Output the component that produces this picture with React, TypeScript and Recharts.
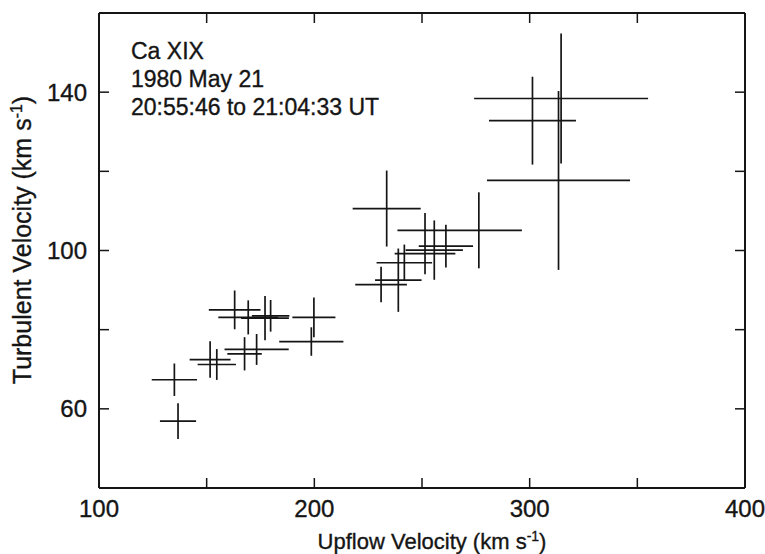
import React from 'react';
import { ScatterChart, Scatter, XAxis, YAxis, ErrorBar, Customized } from 'recharts';

// Upflow velocity (km/s) of each measurement
const upflow = [135.0, 136.7, 151.6, 154.7, 167.6, 173.2, 163.0, 169.3, 177.1, 179.7, 199.8, 198.6, 233.6, 231.0, 239.0, 241.8, 251.4, 255.7, 261.1, 276.4, 301.3, 314.6, 313.4];
// Turbulent velocity (km/s)
const turbulent = [67.35, 56.9, 72.45, 71.2, 73.9, 75.0, 85.0, 83.1, 82.9, 83.5, 83.1, 77.0, 110.6, 91.4, 92.5, 96.9, 99.2, 100.1, 101.1, 105.1, 132.8, 138.4, 117.7];
// Error bars (minus / plus)
const upflowErrLow = [10.5, 8.4, 9.5, 8.9, 8.0, 14.9, 12.0, 13.9, 11.1, 8.7, 10.0, 14.9, 15.8, 12.0, 10.8, 12.9, 14.1, 13.3, 12.6, 37.8, 20.2, 40.4, 33.2];
const upflowErrHigh = [10.5, 8.4, 9.5, 8.9, 8.0, 14.9, 12.0, 13.9, 11.1, 8.7, 10.0, 14.9, 15.8, 12.0, 10.8, 12.9, 14.1, 13.3, 12.6, 20.0, 20.2, 40.4, 33.2];
const turbErrLow = [4.1, 4.5, 4.6, 3.9, 4.2, 3.9, 4.9, 4.3, 5.6, 4.0, 5.0, 3.6, 9.6, 4.5, 8.0, 4.6, 5.2, 7.5, 5.4, 9.6, 11.1, 16.4, 22.6];
const turbErrHigh = [4.1, 4.5, 4.6, 3.9, 4.2, 3.9, 4.9, 4.3, 5.6, 4.0, 5.0, 3.6, 9.6, 4.5, 8.0, 4.6, 10.3, 7.5, 5.4, 9.6, 11.1, 16.4, 22.6];

const xTicks = [100, 150, 200, 250, 300, 350, 400];
const xLabels = [100, 200, 300, 400];
const yTicks = [60, 80, 100, 120, 140];
const yLabels = [60, 100, 140];

const annotationLines = ['Ca XIX', '1980 May 21', '20:55:46 to 21:04:33 UT'];

const data = upflow.map((x, i) => ({
  x,
  y: turbulent[i],
  xe: [upflowErrLow[i], upflowErrHigh[i]],
  ye: [turbErrLow[i], turbErrHigh[i]],
}));

const FONT = '"Liberation Sans", Arial, Helvetica, sans-serif';
const INK = '#151515';

const Texts = () => (
  <g fontFamily={FONT} fill={INK} stroke={INK} strokeWidth={0.35}>
    {annotationLines.map((t, i) => (
      <text key={t} x={131} y={59 + i * 27.8} fontSize={23}>
        {t}
      </text>
    ))}
    <text x={432} y={549} fontSize={22} textAnchor="middle">
      Upflow Velocity (km s<tspan dy={-8} fontSize={14}>-1</tspan>
      <tspan dy={8}>)</tspan>
    </text>
    <text x={31} y={240} fontSize={25} textAnchor="middle" transform="rotate(-90, 31, 240)">
      Turbulent Velocity (km s<tspan dy={-9} fontSize={16}>-1</tspan>
      <tspan dy={9}>)</tspan>
    </text>
  </g>
);

const axisLine = { stroke: INK, strokeWidth: 2 };
const tickLine = { stroke: INK, strokeWidth: 1.5 };
const tickStyle = { fill: INK, stroke: INK, strokeWidth: 0.35, fontSize: 24, fontFamily: FONT };

export default function App() {
  return (
    <div style={{ position: 'absolute', left: 0, top: 0, background: '#fff' }}>
      <ScatterChart width={765} height={554} margin={{ top: 12, right: 19, bottom: 0, left: 0 }}>
        <XAxis
          xAxisId="bottom"
          dataKey="x"
          type="number"
          domain={[100, 400]}
          ticks={xTicks}
          interval={0}
          height={66}
          tickSize={-10}
          tickMargin={22}
          axisLine={axisLine}
          tickLine={tickLine}
          tick={tickStyle}
          tickFormatter={(v: number) => (xLabels.includes(v) ? String(v) : '')}
          allowDataOverflow
        />
        <XAxis
          xAxisId="top"
          orientation="top"
          dataKey="x"
          type="number"
          domain={[100, 400]}
          ticks={xTicks}
          interval={0}
          height={1}
          tickSize={-10}
          axisLine={axisLine}
          tickLine={tickLine}
          tick={tickStyle}
          tickFormatter={() => ''}
          allowDataOverflow
        />
        <YAxis
          yAxisId="left"
          dataKey="y"
          type="number"
          domain={[40, 160]}
          ticks={yTicks}
          interval={0}
          width={99}
          tickSize={-10}
          tickMargin={22}
          axisLine={axisLine}
          tickLine={tickLine}
          tick={tickStyle}
          tickFormatter={(v: number) => (yLabels.includes(v) ? String(v) : '')}
          allowDataOverflow
        />
        <YAxis
          yAxisId="right"
          orientation="right"
          dataKey="y"
          type="number"
          domain={[40, 160]}
          ticks={yTicks}
          interval={0}
          width={1}
          tickSize={-10}
          axisLine={axisLine}
          tickLine={tickLine}
          tick={tickStyle}
          tickFormatter={() => ''}
          allowDataOverflow
        />
        <Scatter
          xAxisId="bottom"
          yAxisId="left"
          data={data}
          shape={() => <g />}
          isAnimationActive={false}
        >
          <ErrorBar direction="x" dataKey="xe" width={0} stroke={INK} strokeWidth={1.7} isAnimationActive={false} />
          <ErrorBar direction="y" dataKey="ye" width={0} stroke={INK} strokeWidth={1.7} isAnimationActive={false} />
        </Scatter>
        <Customized component={Texts} />
      </ScatterChart>
    </div>
  );
}
